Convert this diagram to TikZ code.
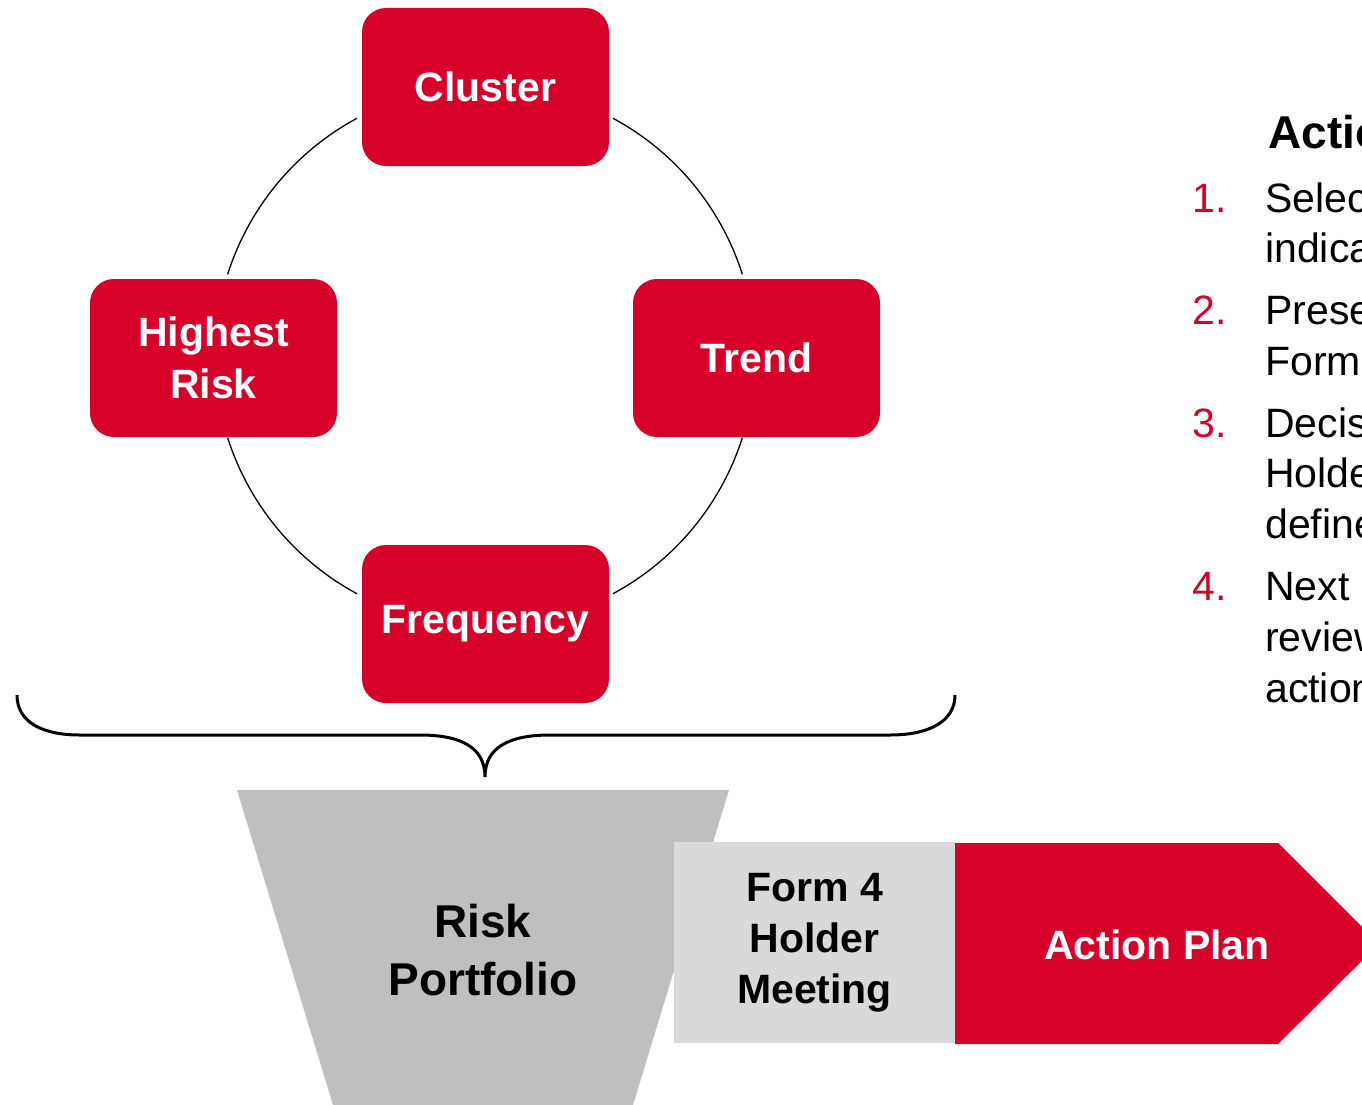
\documentclass[tikz,border=0pt]{standalone}
\usepackage{fontspec}
\setmainfont{Liberation Sans}
\definecolor{boxred}{RGB}{214,0,40}
\definecolor{funnelgray}{RGB}{191,191,191}
\definecolor{formgray}{RGB}{217,217,217}
\begin{document}
\begin{tikzpicture}[x=1pt,y=-1pt,
  redbox/.style={fill=boxred,rounded corners=24pt,minimum width=247pt,minimum height=158pt,inner sep=0pt,
    text=white,font=\fontsize{41}{52}\selectfont\bfseries,align=center},
  ringarc/.style={line width=1.3pt,black},
  bracestyle/.style={line width=3pt,black},
  listnum/.style={anchor=base west,inner sep=0pt,text=boxred,font=\fontsize{41}{50}\selectfont},
  listtxt/.style={anchor=base west,inner sep=0pt,text=black,font=\fontsize{41}{50}\selectfont},
]
\useasboundingbox (0,0) rectangle (1362,1105);
\begin{scope}
\clip (0,0) rectangle (1362,1105);
\fill[white] (0,0) rectangle (1362,1105);
% ring
\coordinate (ctr) at (485,356);
\foreach \a in {17.6,118.3,197.6,298.3}{
  \draw[ringarc] ([shift={(\a:270pt)}]ctr) arc[start angle=\a, end angle=\a+44.1, radius=270pt];
}
% boxes
\node[redbox] (cluster) at (485.5,87) {Cluster};
\node[redbox] (highest) at (213.5,358) {Highest\\Risk};
\node[redbox] (trend) at (756.5,358) {Trend};
\node[redbox] (freq) at (485.5,624) {Frequency};
% brace
\draw[bracestyle] (17,695) .. controls (17,722) and (42,735) .. (80,735) -- (420,735)
  .. controls (462,735) and (485,748) .. (485,777)
  .. controls (485,748) and (508,735) .. (550,735) -- (890,735)
  .. controls (928,735) and (955,722) .. (955,695);
% funnel
\fill[funnelgray] (237,790) -- (729,790) -- (633,1105) -- (333,1105) -- cycle;
\node[font=\fontsize{46}{58}\selectfont\bfseries,align=center,inner sep=0pt] (risk) at (483,950) {Risk\\Portfolio};
% form 4 box
\node[fill=formgray,minimum width=281pt,minimum height=201pt,inner sep=0pt,
  font=\fontsize{41}{51}\selectfont\bfseries,align=center] (form) at (814.5,942.5) {Form 4\\Holder\\Meeting};
% action plan arrow
\fill[boxred] (955,843) -- (1278,843) -- (1379,944) -- (1278,1044) -- (955,1044) -- cycle;
\node[text=white,font=\fontsize{41}{50}\selectfont\bfseries,inner sep=0pt] (action) at (1157,945) {Action Plan};
% right text
\node[anchor=base west,inner sep=0pt,font=\fontsize{46}{55}\selectfont\bfseries] (head) at (1268,148) {Actio};
\node[listnum] (n1) at (1192,212) {1.};
\node[listtxt] (t1a) at (1265,212) {Selec};
\node[listtxt] (t1b) at (1265,262) {indica};
\node[listnum] (n2) at (1192,324) {2.};
\node[listtxt] (t2a) at (1265,324) {Prese};
\node[listtxt] (t2b) at (1265,375) {Form};
\node[listnum] (n3) at (1192,437) {3.};
\node[listtxt] (t3a) at (1265,437) {Decis};
\node[listtxt] (t3b) at (1265,487) {Holde};
\node[listtxt] (t3c) at (1265,538) {define};
\node[listnum] (n4) at (1192,600) {4.};
\node[listtxt] (t4a) at (1265,600) {Next};
\node[listtxt] (t4b) at (1265,651) {review};
\node[listtxt] (t4c) at (1265,702) {action};
\end{scope}
\end{tikzpicture}
\end{document}
